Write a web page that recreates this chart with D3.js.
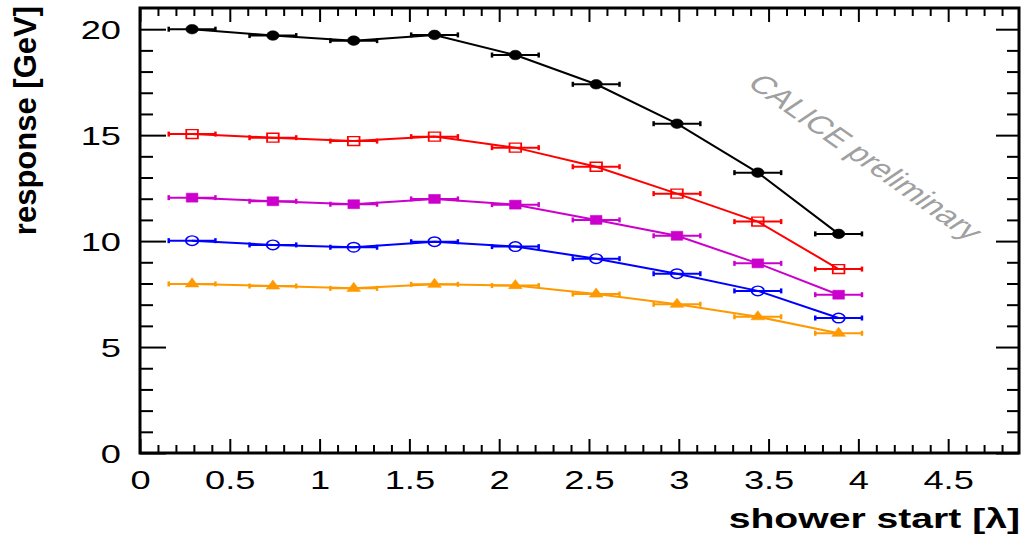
<!DOCTYPE html>
<html>
<head>
<meta charset="utf-8">
<script src="https://cdn.jsdelivr.net/npm/d3@7"></script>
<style>
  body { margin: 0; background: #fff; }
  svg { display: block; }
</style>
</head>
<body>
<svg id="chart" width="1023" height="536"></svg>
<script>
// data
var showerStart = [0.29, 0.74, 1.19, 1.64, 2.09, 2.54, 2.99, 3.44, 3.89];
var showerErr   = [0.13, 0.13, 0.13, 0.13, 0.13, 0.13, 0.13, 0.13, 0.13];

var resp20 = [20.00, 19.70, 19.46, 19.73, 18.78, 17.40, 15.54, 13.23, 10.34];
var resp15 = [15.05, 14.88, 14.72, 14.93, 14.41, 13.51, 12.24, 10.92, 8.68];
var resp12 = [12.05, 11.88, 11.74, 11.99, 11.72, 11.00, 10.25, 8.95, 7.47];
var resp10 = [10.02, 9.82, 9.71, 9.97, 9.74, 9.17, 8.46, 7.65, 6.37];
var resp8  = [7.98, 7.88, 7.77, 7.96, 7.90, 7.50, 7.02, 6.43, 5.65];

var xMajor = [0, 0.5, 1, 1.5, 2, 2.5, 3, 3.5, 4, 4.5];
var yMajor = [0, 5, 10, 15, 20];

// styles kept apart from the values
var series = [
    {vals: resp20, color: "#000000", marker: "circle",   filled: true},
    {vals: resp15, color: "#ff0000", marker: "square",   filled: false},
    {vals: resp12, color: "#cc00cc", marker: "square",   filled: true},
    {vals: resp10, color: "#0000ff", marker: "circle",   filled: false},
    {vals: resp8,  color: "#ff9900", marker: "triangle", filled: true}
];

var sx = 1.45;   // the picture is stretched sideways
var font = "Liberation Sans, Arial, sans-serif";

var frameL = 140, frameR = 1019, frameT = 8, frameB = 453;

var xs = d3.scaleLinear().domain([0, 4.9]).range([frameL, frameR + 1]);
var ys = d3.scaleLinear().domain([0, 21]).range([frameB, frameT]);

var chart = d3.select("#chart");

chart.append("rect")
    .attr("width", "100%")
    .attr("height", "100%")
    .attr("fill", "white");

// minor ticks
var xMinor = d3.range(1, 49).map(i => i / 10).filter(v => Math.abs(v * 2 - Math.round(v * 2)) > 1e-6);
var yMinor = d3.range(1, 21).filter(v => v % 5 != 0);

function tickAxis(axis, pos) {
    var g = chart.append("g")
        .attr("transform", pos)
        .call(axis);
    g.select(".domain").remove();
    g.selectAll(".tick line").attr("stroke", "#000").attr("stroke-width", 2);
    return g;
}

// bottom
var gx = tickAxis(d3.axisBottom(xs).tickValues(xMajor).tickSizeInner(-14).tickSizeOuter(0).tickPadding(18)
    .tickFormat(d3.format("")), "translate(0," + frameB + ")");
gx.selectAll("text")
    .attr("transform", "scale(" + sx + ",1)")
    .style("font-family", font)
    .style("font-size", "25px")
    .attr("fill", "#000");
tickAxis(d3.axisBottom(xs).tickValues(xMinor).tickSize(-8).tickFormat(""), "translate(0," + frameB + ")");

// top
tickAxis(d3.axisTop(xs).tickValues(xMajor).tickSize(-14).tickFormat(""), "translate(0," + frameT + ")");
tickAxis(d3.axisTop(xs).tickValues(xMinor).tickSize(-8).tickFormat(""), "translate(0," + frameT + ")");

// left
var gy = tickAxis(d3.axisLeft(ys).tickValues(yMajor).tickSizeInner(-26).tickSizeOuter(0), "translate(" + frameL + ",0)");
gy.selectAll("text")
    .attr("x", -19 / sx)
    .attr("dy", "0.36em")
    .attr("transform", "scale(" + sx + ",1)")
    .style("font-family", font)
    .style("font-size", "25px")
    .attr("fill", "#000");
tickAxis(d3.axisLeft(ys).tickValues(yMinor).tickSize(-13).tickFormat(""), "translate(" + frameL + ",0)");

// right
tickAxis(d3.axisRight(ys).tickValues(yMajor).tickSize(-23).tickFormat(""), "translate(" + frameR + ",0)");
tickAxis(d3.axisRight(ys).tickValues(yMinor).tickSize(-12).tickFormat(""), "translate(" + frameR + ",0)");

// frame
chart.append("rect")
    .attr("x", frameL)
    .attr("y", frameT)
    .attr("width", frameR - frameL)
    .attr("height", frameB - frameT)
    .attr("fill", "none")
    .attr("stroke", "#000")
    .attr("stroke-width", 3);

// watermark
chart.append("g")
    .attr("transform", "translate(866,157) scale(" + sx + ",1) rotate(45.7)")
  .append("text")
    .attr("text-anchor", "middle")
    .attr("dy", "0.35em")
    .style("font-family", font)
    .style("font-size", "25px")
    .attr("fill", "#a0a0a0")
    .text("CALICE preliminary");

var symbols = {circle: d3.symbolCircle, square: d3.symbolSquare, triangle: d3.symbolTriangle};
var symSize = {circle: 72, square: 80, triangle: 48};

var line = d3.line()
    .x(d => xs(d.x))
    .y(d => ys(d.y));

series.forEach(function(s) {
    var pts = s.vals.map((v, i) => ({x: showerStart[i], e: showerErr[i], y: v}));
    var g = chart.append("g");

    g.append("path")
        .datum(pts)
        .attr("d", line)
        .attr("fill", "none")
        .attr("stroke", s.color)
        .attr("stroke-width", 2);

    // horizontal error bars with end caps
    g.selectAll(".err")
        .data(pts)
        .enter()
        .append("line")
            .attr("x1", d => xs(d.x - d.e))
            .attr("x2", d => xs(d.x + d.e))
            .attr("y1", d => ys(d.y))
            .attr("y2", d => ys(d.y))
            .attr("stroke", s.color)
            .attr("stroke-width", 2);

    [-1, 1].forEach(function(side) {
        g.selectAll(".cap" + (side + 1))
            .data(pts)
            .enter()
            .append("line")
                .attr("x1", d => xs(d.x + side * d.e))
                .attr("x2", d => xs(d.x + side * d.e))
                .attr("y1", d => ys(d.y) - 2.5)
                .attr("y2", d => ys(d.y) + 2.5)
                .attr("stroke", s.color)
                .attr("stroke-width", 2.5);
    });

    g.selectAll(".mk")
        .data(pts)
        .enter()
        .append("path")
            .attr("transform", d => "translate(" + xs(d.x) + "," + ys(d.y) + ") scale(1.3,1)")
            .attr("d", d3.symbol().type(symbols[s.marker]).size(symSize[s.marker]))
            .attr("fill", s.filled ? s.color : "none")
            .attr("stroke", s.color)
            .attr("stroke-width", s.filled ? 0.5 : 1.4);
});

// axis titles
chart.append("text")
    .attr("transform", "translate(" + (frameR + 1) + ",528) scale(" + sx + ",1)")
    .attr("text-anchor", "end")
    .style("font-family", font)
    .style("font-size", "27px")
    .style("font-weight", "bold")
    .text("shower start [λ]");

chart.append("text")
    .attr("transform", "translate(36,6) rotate(-90)")
    .attr("text-anchor", "end")
    .style("font-family", font)
    .style("font-size", "31px")
    .style("font-weight", "bold")
    .text("response [GeV]");
</script>
</body>
</html>
